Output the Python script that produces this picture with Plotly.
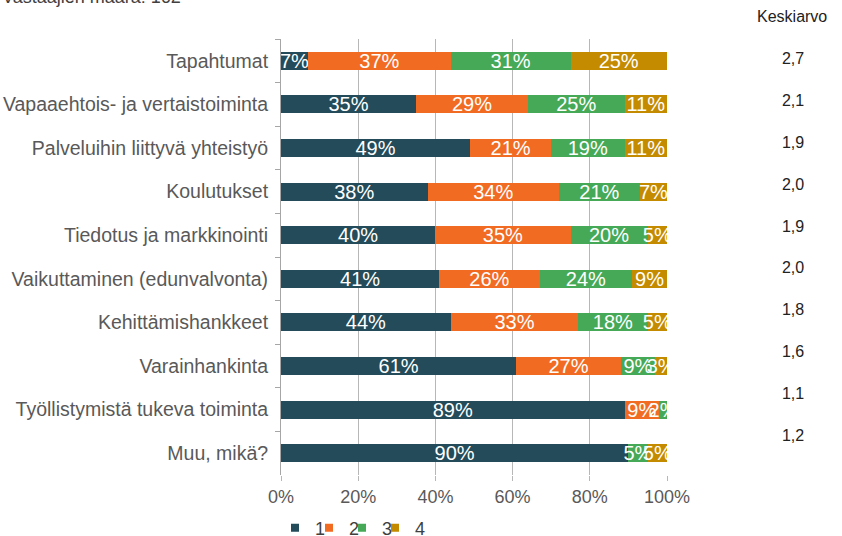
import plotly.graph_objects as go

categories = [
    "Tapahtumat",
    "Vapaaehtois- ja vertaistoiminta",
    "Palveluihin liittyvä yhteistyö",
    "Koulutukset",
    "Tiedotus ja markkinointi",
    "Vaikuttaminen (edunvalvonta)",
    "Kehittämishankkeet",
    "Varainhankinta",
    "Työllistymistä tukeva toiminta",
    "Muu, mikä?",
]
s1 = [7, 35, 49, 38, 40, 41, 44, 61, 89, 90]
s2 = [37, 29, 21, 34, 35, 26, 33, 27, 9, 0]
s3 = [31, 25, 19, 21, 20, 24, 18, 9, 2, 5]
s4 = [25, 11, 11, 7, 5, 9, 5, 3, 0, 5]
series_names = ["1", "2", "3", "4"]
means = ["2,7", "2,1", "1,9", "2,0", "1,9", "2,0", "1,8", "1,6", "1,1", "1,2"]
x_ticks = [0, 20, 40, 60, 80, 100]
x_ticklabels = ["0%", "20%", "40%", "60%", "80%", "100%"]
respondents_text = "Vastaajien määrä: 162"
mean_header = "Keskiarvo"

colors = ["#234B5A", "#F26B23", "#46A957", "#C48A00"]
FONT = "Liberation Sans, Arial, sans-serif"

W, H = 842, 536
ML, MR, MT, MB = 281, 20, 39, 61
pw = W - ML - MR
ph = H - MT - MB
plot_right = 667

fig = go.Figure()
for name, vals, col in zip(series_names, [s1, s2, s3, s4], colors):
    fig.add_trace(go.Bar(
        y=categories, x=vals, name=name, orientation="h",
        marker=dict(color=col, line=dict(width=0)),
        text=[f"{v}%" if v else "" for v in vals],
        textposition="inside", insidetextanchor="middle",
        constraintext="none", textangle=0,
        textfont=dict(color="white", size=20, family=FONT),
        width=0.41, showlegend=False,
        hoverinfo="skip",
    ))

# legend-only square markers, one legend per entry for tight spacing
legend_centers = [298, 332, 365, 398]
for i, (name, col) in enumerate(zip(series_names, colors)):
    lg = "legend" if i == 0 else f"legend{i + 1}"
    fig.add_trace(go.Scatter(
        x=[None], y=[None], mode="markers", name=name,
        marker=dict(symbol="square", size=8, color=col),
        legend=lg, showlegend=True, hoverinfo="skip",
    ))

# Keskiarvo column
fig.add_trace(go.Scatter(
    x=[0.5] * len(categories), y=categories, text=means, mode="text",
    xaxis="x2", yaxis="y2", showlegend=False, hoverinfo="skip",
    textfont=dict(size=16, color="#222222", family=FONT),
))

x_dom_end = (plot_right - ML) / pw
legend_y = -(528 - (H - MB)) / ph
legends = {}
for i, c in enumerate(legend_centers):
    key = "legend" if i == 0 else f"legend{i + 1}"
    legends[key] = dict(
        orientation="h", x=(c - 23 - ML) / pw, xanchor="left",
        y=legend_y, yanchor="middle",
        font=dict(size=18, color="#404040", family=FONT),
        itemwidth=30, bgcolor="rgba(0,0,0,0)",
    )

fig.update_layout(
    width=W, height=H,
    margin=dict(l=ML, r=MR, t=MT, b=MB, autoexpand=False),
    paper_bgcolor="white", plot_bgcolor="white",
    barmode="stack",
    uniformtext=dict(minsize=20, mode="show"),
    font=dict(family=FONT, size=18, color="#595959"),
    xaxis=dict(
        domain=[0, x_dom_end], range=[0, 100],
        tickvals=x_ticks, ticktext=x_ticklabels,
        showgrid=True, gridcolor="#B7B7B7", gridwidth=1,
        zeroline=False, ticks="outside", ticklen=5, tickcolor="#B7B7B7",
        tickfont=dict(size=18, color="#595959"),
        showline=False, automargin=False,
    ),
    yaxis=dict(
        autorange="reversed", tickson="boundaries", ticks="outside",
        ticklen=5, tickcolor="#A6A6A6",
        showline=True, linecolor="#A6A6A6", linewidth=1,
        tickfont=dict(size=19.5, color="#595959"),
        ticklabelstandoff=8,
        showgrid=False, zeroline=False, automargin=False,
    ),
    xaxis2=dict(
        domain=[(793 - ML - 25) / pw, (793 - ML + 25) / pw], range=[0, 1],
        visible=False, anchor="y2",
    ),
    yaxis2=dict(
        domain=[(H - MB - 458) / ph, 1],
        autorange="reversed", visible=False, anchor="x2",
        categoryorder="array", categoryarray=categories,
    ),
    annotations=[
        dict(text=respondents_text, xref="paper", yref="paper",
             x=-ML / pw, y=1 + (MT - 9) / ph, xanchor="left", yanchor="bottom",
             showarrow=False, font=dict(size=18, color="#404040")),
        dict(text=mean_header, xref="paper", yref="paper",
             x=(792 - ML) / pw, y=1 + (MT - 17) / ph, xanchor="center", yanchor="middle",
             showarrow=False, font=dict(size=16, color="#222222")),
    ],
    **legends,
)

fig.write_html(
    "out.html",
    config={"displayModeBar": False},
    post_script="document.body.style.margin='0';document.body.style.padding='0';",
)
